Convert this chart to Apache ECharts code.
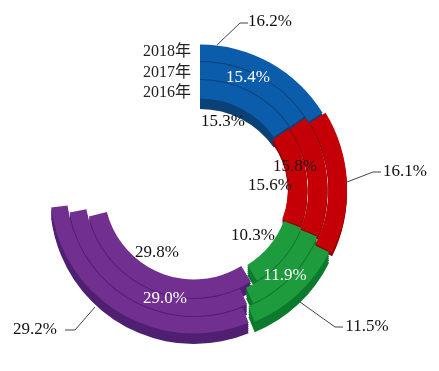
<!DOCTYPE html>
<html>
<head>
<meta charset="utf-8">
<style>
  html, body { margin: 0; padding: 0; background: #fff; }
  #chart { width: 439px; height: 371px; }
</style>
<script src="https://cdn.jsdelivr.net/npm/echarts@6/dist/echarts.min.js"></script>
</head>
<body>
<div id="chart"></div>
<script>
const categories = ["a", "b", "c", "d"];
const years = ["2016年", "2017年", "2018年"];
const values2016 = [15.3, 15.6, 10.3, 29.8];
const values2017 = [15.4, 15.8, 11.9, 29.0];
const values2018 = [16.2, 16.1, 11.5, 29.2];
const ringValues = [values2016, values2017, values2018];

const FONT = '"Liberation Serif", "Noto Sans CJK SC", serif';
const front = ["#0b5cab", "#c40006", "#1e9b3c", "#71308f"];
const side = ["#0a4278", "#8e0008", "#0b7a2c", "#4f1f72"];
const cx = 200;
const cy = 188.5;
const radii = [[90, 108.5], [109.5, 126.5], [127.5, 144]];
const redRadii = [[85, 104.5], [105.5, 124.5], [125.5, 144]];
const shiftX = [0, 3, 0, -6];
const shiftY = [0, 0, 0, 1];
const depths = [2, 4, 6, 8, 10.5];

// label centres, [ring][category]
const labelPos = [
  [[223, 122], [270, 186], [253, 236], [157, 253]],
  [[248, 78], [295, 167], [285, 276], [165, 299]],
  [[270, 22], [405, 172], [367, 327], [35, 330]],
];
const labelColor = [
  ["#111", "#111", "#111", "#111"],
  ["#fff", "#2a0a0a", "#fff", "#fff"],
  ["#111", "#111", "#111", "#111"],
];

const leaders = [
  [[217, 45], [240, 23], [248, 23]],
  [[347, 182], [373, 172], [381, 172]],
  [[300, 302], [335, 327], [343, 327]],
  [[95, 307], [75, 330], [65, 330]],
];

const series = [];
function addSegment(r, c, startPct, dy, isFront) {
  const v = ringValues[r][c];
  const pos = labelPos[r][c];
  series.push({
    type: "pie",
    z: isFront ? 3 : 1,
    silent: true,
    center: [cx + shiftX[c], cy + shiftY[c] + dy],
    radius: c === 1 ? redRadii[r] : radii[r],
    startAngle: 90 - 3.6 * startPct,
    avoidLabelOverlap: false,
    animation: false,
    itemStyle: { color: isFront ? front[c] : side[c] },
    label: {
      show: isFront,
      position: "inside",
      formatter: (p) => (p.dataIndex === 0 ? p.value.toFixed(1) + "%" : ""),
      color: labelColor[r][c],
      fontFamily: FONT,
      fontSize: 17,
    },
    labelLine: { show: false },
    labelLayout: (p) =>
      p.dataIndex === 0 ? { x: pos[0], y: pos[1], align: "center", verticalAlign: "middle" } : {},
    data: [
      { name: categories[c], value: v },
      { name: "blank", value: 100 - v, itemStyle: { color: "transparent" }, label: { show: false } },
    ],
  });
}

ringValues.forEach((vals, r) => {
  let cum = 0;
  vals.forEach((v, c) => {
    // red barely shows a side wall in the picture
    (c === 1 ? depths.slice(0, 2) : depths).forEach((d) => addSegment(r, c, cum, d, false));
    cum += v;
  });
});
ringValues.forEach((vals, r) => {
  let cum = 0;
  vals.forEach((v, c) => {
    addSegment(r, c, cum, 0, true);
    cum += v;
  });
});

const leaderGraphics = leaders.map((pts) => ({
  type: "polyline",
  z: 10,
  shape: { points: pts },
  style: { stroke: "#444", lineWidth: 1, fill: null },
}));
const yearGraphics = years.map((y, i) => ({
  type: "text",
  z: 10,
  x: 191,
  y: 93 - i * 20.5,
  style: { text: y, fontFamily: FONT, fontSize: 16, fill: "#222", align: "right", verticalAlign: "middle" },
}));

const inst = echarts.init(document.getElementById("chart"), undefined, { renderer: "canvas" });
inst.setOption({
  backgroundColor: "#fff",
  animation: false,
  series,
  graphic: leaderGraphics.concat(yearGraphics),
});
</script>
</body>
</html>
